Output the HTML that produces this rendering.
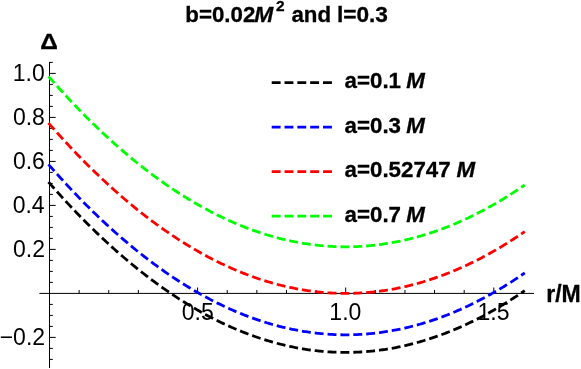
<!DOCTYPE html>
<html><head><meta charset="utf-8"><style>
html,body{margin:0;padding:0;background:#fff;}
svg{display:block;will-change:transform;}
text{font-family:"Liberation Sans",sans-serif;fill:#000;}
</style></head><body>
<svg width="581" height="369" viewBox="0 0 581 369">
<rect width="581" height="369" fill="#fff"/>
<path d="M39.4,293.4 H534 M49.5,62 V368 M79.12,293.4 v-3.4 M108.74,293.4 v-3.4 M138.36,293.4 v-3.4 M167.98,293.4 v-3.4 M197.60,293.4 v-5.9 M227.22,293.4 v-3.4 M256.84,293.4 v-3.4 M286.46,293.4 v-3.4 M316.08,293.4 v-3.4 M345.70,293.4 v-5.9 M375.32,293.4 v-3.4 M404.94,293.4 v-3.4 M434.56,293.4 v-3.4 M464.18,293.4 v-3.4 M493.80,293.4 v-5.9 M523.42,293.4 v-3.4 M49.5,359.40 h3.3 M49.5,348.40 h3.3 M49.5,337.40 h6.2 M49.5,326.40 h3.3 M49.5,315.40 h3.3 M49.5,304.40 h3.3 M49.5,282.40 h3.3 M49.5,271.40 h3.3 M49.5,260.40 h3.3 M49.5,249.40 h6.2 M49.5,238.40 h3.3 M49.5,227.40 h3.3 M49.5,216.40 h3.3 M49.5,205.40 h6.2 M49.5,194.40 h3.3 M49.5,183.40 h3.3 M49.5,172.40 h3.3 M49.5,161.40 h6.2 M49.5,150.40 h3.3 M49.5,139.40 h3.3 M49.5,128.40 h3.3 M49.5,117.40 h6.2 M49.5,106.40 h3.3 M49.5,95.40 h3.3 M49.5,84.40 h3.3 M49.5,73.40 h6.2 M49.5,62.40 h3.3" stroke="#000" stroke-width="1" fill="none"/>
<text x="12.77" y="81.30" style="font-size:23.0px;">1.0</text>
<text x="12.90" y="125.30" style="font-size:23.0px;">0.8</text>
<text x="12.90" y="169.30" style="font-size:23.0px;">0.6</text>
<text x="12.65" y="213.30" style="font-size:23.0px;">0.4</text>
<text x="13.02" y="257.30" style="font-size:23.0px;">0.2</text>
<text x="-0.35" y="345.30" style="font-size:23.0px;">−0.2</text>
<text x="181.76" y="320.00" style="font-size:23.0px;">0.5</text>
<text x="329.36" y="320.00" style="font-size:23.0px;">1.0</text>
<text x="477.52" y="320.00" style="font-size:23.0px;">1.5</text>
<path d="M48.46,181.99 L49.94,183.68 L51.42,185.37 L52.90,187.04 L54.38,188.71 L55.86,190.37 L57.34,192.02 L58.82,193.66 L60.30,195.29 L61.78,196.91 L63.25,198.53 L64.73,200.14 L66.21,201.74 L67.69,203.33 L69.17,204.91 L70.65,206.48 L72.13,208.05 L73.61,209.61 L75.09,211.15 L76.57,212.69 L78.05,214.23 L79.53,215.75 L81.00,217.26 L82.48,218.77 L83.96,220.27 L85.44,221.76 L86.92,223.24 L88.40,224.71 L89.88,226.17 L91.36,227.63 L92.84,229.08 L94.32,230.52 L95.80,231.95 L97.28,233.37 L98.75,234.78 L100.23,236.19 L101.71,237.58 L103.19,238.97 L104.67,240.35 L106.15,241.72 L107.63,243.08 L109.11,244.44 L110.59,245.78 L112.07,247.12 L113.55,248.45 L115.03,249.77 L116.50,251.08 L117.98,252.39 L119.46,253.68 L120.94,254.97 L122.42,256.25 L123.90,257.52 L125.38,258.78 L126.86,260.03 L128.34,261.28 L129.82,262.51 L131.30,263.74 L132.78,264.96 L134.25,266.17 L135.73,267.37 L137.21,268.57 L138.69,269.75 L140.17,270.93 L141.65,272.10 L143.13,273.26 L144.61,274.41 L146.09,275.55 L147.57,276.69 L149.05,277.81 L150.53,278.93 L152.00,280.04 L153.48,281.14 L154.96,282.23 L156.44,283.32 L157.92,284.39 L159.40,285.46 L160.88,286.52 L162.36,287.57 L163.84,288.61 L165.32,289.65 L166.80,290.67 L168.28,291.69 L169.75,292.70 L171.23,293.70 L172.71,294.69 L174.19,295.67 L175.67,296.64 L177.15,297.61 L178.63,298.57 L180.11,299.52 L181.59,300.46 L183.07,301.39 L184.55,302.31 L186.03,303.23 L187.50,304.14 L188.98,305.03 L190.46,305.92 L191.94,306.81 L193.42,307.68 L194.90,308.54 L196.38,309.40 L197.86,310.25 L199.34,311.09 L200.82,311.92 L202.30,312.74 L203.78,313.56 L205.25,314.36 L206.73,315.16 L208.21,315.95 L209.69,316.73 L211.17,317.50 L212.65,318.26 L214.13,319.02 L215.61,319.76 L217.09,320.50 L218.57,321.23 L220.05,321.95 L221.53,322.67 L223.00,323.37 L224.48,324.07 L225.96,324.75 L227.44,325.43 L228.92,326.10 L230.40,326.77 L231.88,327.42 L233.36,328.06 L234.84,328.70 L236.32,329.33 L237.80,329.95 L239.27,330.56 L240.75,331.16 L242.23,331.76 L243.71,332.35 L245.19,332.92 L246.67,333.49 L248.15,334.05 L249.63,334.61 L251.11,335.15 L252.59,335.68 L254.07,336.21 L255.55,336.73 L257.02,337.24 L258.50,337.74 L259.98,338.24 L261.46,338.72 L262.94,339.20 L264.42,339.67 L265.90,340.13 L267.38,340.58 L268.86,341.02 L270.34,341.45 L271.82,341.88 L273.30,342.30 L274.77,342.71 L276.25,343.11 L277.73,343.50 L279.21,343.88 L280.69,344.26 L282.17,344.62 L283.65,344.98 L285.13,345.33 L286.61,345.67 L288.09,346.01 L289.57,346.33 L291.05,346.65 L292.52,346.95 L294.00,347.25 L295.48,347.54 L296.96,347.83 L298.44,348.10 L299.92,348.37 L301.40,348.62 L302.88,348.87 L304.36,349.11 L305.84,349.34 L307.32,349.57 L308.80,349.78 L310.27,349.99 L311.75,350.19 L313.23,350.38 L314.71,350.56 L316.19,350.73 L317.67,350.89 L319.15,351.05 L320.63,351.20 L322.11,351.33 L323.59,351.47 L325.07,351.59 L326.55,351.70 L328.02,351.81 L329.50,351.90 L330.98,351.99 L332.46,352.07 L333.94,352.14 L335.42,352.20 L336.90,352.26 L338.38,352.31 L339.86,352.34 L341.34,352.37 L342.82,352.39 L344.30,352.40 L345.77,352.41 L347.25,352.40 L348.73,352.39 L350.21,352.37 L351.69,352.34 L353.17,352.30 L354.65,352.25 L356.13,352.20 L357.61,352.13 L359.09,352.06 L360.57,351.98 L362.05,351.89 L363.52,351.80 L365.00,351.69 L366.48,351.58 L367.96,351.45 L369.44,351.32 L370.92,351.18 L372.40,351.03 L373.88,350.88 L375.36,350.71 L376.84,350.54 L378.32,350.36 L379.80,350.17 L381.27,349.97 L382.75,349.76 L384.23,349.54 L385.71,349.32 L387.19,349.09 L388.67,348.85 L390.15,348.60 L391.63,348.34 L393.11,348.07 L394.59,347.80 L396.07,347.52 L397.55,347.22 L399.02,346.92 L400.50,346.62 L401.98,346.30 L403.46,345.97 L404.94,345.64 L406.42,345.30 L407.90,344.95 L409.38,344.59 L410.86,344.22 L412.34,343.84 L413.82,343.46 L415.30,343.07 L416.77,342.66 L418.25,342.25 L419.73,341.84 L421.21,341.41 L422.69,340.97 L424.17,340.53 L425.65,340.08 L427.13,339.62 L428.61,339.15 L430.09,338.67 L431.57,338.19 L433.04,337.69 L434.52,337.19 L436.00,336.68 L437.48,336.16 L438.96,335.63 L440.44,335.09 L441.92,334.55 L443.40,334.00 L444.88,333.44 L446.36,332.86 L447.84,332.29 L449.32,331.70 L450.79,331.10 L452.27,330.50 L453.75,329.89 L455.23,329.27 L456.71,328.64 L458.19,328.00 L459.67,327.35 L461.15,326.70 L462.63,326.04 L464.11,325.36 L465.59,324.68 L467.07,324.00 L468.54,323.30 L470.02,322.59 L471.50,321.88 L472.98,321.16 L474.46,320.43 L475.94,319.69 L477.42,318.94 L478.90,318.19 L480.38,317.42 L481.86,316.65 L483.34,315.87 L484.82,315.08 L486.29,314.28 L487.77,313.47 L489.25,312.66 L490.73,311.84 L492.21,311.00 L493.69,310.16 L495.17,309.31 L496.65,308.46 L498.13,307.59 L499.61,306.72 L501.09,305.84 L502.57,304.94 L504.04,304.05 L505.52,303.14 L507.00,302.22 L508.48,301.30 L509.96,300.36 L511.44,299.42 L512.92,298.47 L514.40,297.51 L515.88,296.55 L517.36,295.57 L518.84,294.59 L520.32,293.60 L521.79,292.59 L523.27,291.59 L524.75,290.57" stroke="#000000" stroke-width="2.8" stroke-dasharray="8.930 3.96" fill="none"/>
<path d="M48.46,164.39 L49.94,166.08 L51.42,167.77 L52.90,169.44 L54.38,171.11 L55.86,172.77 L57.34,174.42 L58.82,176.06 L60.30,177.69 L61.78,179.31 L63.25,180.93 L64.73,182.54 L66.21,184.14 L67.69,185.73 L69.17,187.31 L70.65,188.88 L72.13,190.45 L73.61,192.01 L75.09,193.55 L76.57,195.09 L78.05,196.63 L79.53,198.15 L81.00,199.66 L82.48,201.17 L83.96,202.67 L85.44,204.16 L86.92,205.64 L88.40,207.11 L89.88,208.57 L91.36,210.03 L92.84,211.48 L94.32,212.92 L95.80,214.35 L97.28,215.77 L98.75,217.18 L100.23,218.59 L101.71,219.98 L103.19,221.37 L104.67,222.75 L106.15,224.12 L107.63,225.48 L109.11,226.84 L110.59,228.18 L112.07,229.52 L113.55,230.85 L115.03,232.17 L116.50,233.48 L117.98,234.79 L119.46,236.08 L120.94,237.37 L122.42,238.65 L123.90,239.92 L125.38,241.18 L126.86,242.43 L128.34,243.68 L129.82,244.91 L131.30,246.14 L132.78,247.36 L134.25,248.57 L135.73,249.77 L137.21,250.97 L138.69,252.15 L140.17,253.33 L141.65,254.50 L143.13,255.66 L144.61,256.81 L146.09,257.95 L147.57,259.09 L149.05,260.21 L150.53,261.33 L152.00,262.44 L153.48,263.54 L154.96,264.63 L156.44,265.72 L157.92,266.79 L159.40,267.86 L160.88,268.92 L162.36,269.97 L163.84,271.01 L165.32,272.05 L166.80,273.07 L168.28,274.09 L169.75,275.10 L171.23,276.10 L172.71,277.09 L174.19,278.07 L175.67,279.04 L177.15,280.01 L178.63,280.97 L180.11,281.92 L181.59,282.86 L183.07,283.79 L184.55,284.71 L186.03,285.63 L187.50,286.54 L188.98,287.43 L190.46,288.32 L191.94,289.21 L193.42,290.08 L194.90,290.94 L196.38,291.80 L197.86,292.65 L199.34,293.49 L200.82,294.32 L202.30,295.14 L203.78,295.96 L205.25,296.76 L206.73,297.56 L208.21,298.35 L209.69,299.13 L211.17,299.90 L212.65,300.66 L214.13,301.42 L215.61,302.16 L217.09,302.90 L218.57,303.63 L220.05,304.35 L221.53,305.07 L223.00,305.77 L224.48,306.47 L225.96,307.15 L227.44,307.83 L228.92,308.50 L230.40,309.17 L231.88,309.82 L233.36,310.46 L234.84,311.10 L236.32,311.73 L237.80,312.35 L239.27,312.96 L240.75,313.56 L242.23,314.16 L243.71,314.75 L245.19,315.32 L246.67,315.89 L248.15,316.45 L249.63,317.01 L251.11,317.55 L252.59,318.08 L254.07,318.61 L255.55,319.13 L257.02,319.64 L258.50,320.14 L259.98,320.64 L261.46,321.12 L262.94,321.60 L264.42,322.07 L265.90,322.53 L267.38,322.98 L268.86,323.42 L270.34,323.85 L271.82,324.28 L273.30,324.70 L274.77,325.11 L276.25,325.51 L277.73,325.90 L279.21,326.28 L280.69,326.66 L282.17,327.02 L283.65,327.38 L285.13,327.73 L286.61,328.07 L288.09,328.41 L289.57,328.73 L291.05,329.05 L292.52,329.35 L294.00,329.65 L295.48,329.94 L296.96,330.23 L298.44,330.50 L299.92,330.77 L301.40,331.02 L302.88,331.27 L304.36,331.51 L305.84,331.74 L307.32,331.97 L308.80,332.18 L310.27,332.39 L311.75,332.59 L313.23,332.78 L314.71,332.96 L316.19,333.13 L317.67,333.29 L319.15,333.45 L320.63,333.60 L322.11,333.73 L323.59,333.87 L325.07,333.99 L326.55,334.10 L328.02,334.21 L329.50,334.30 L330.98,334.39 L332.46,334.47 L333.94,334.54 L335.42,334.60 L336.90,334.66 L338.38,334.71 L339.86,334.74 L341.34,334.77 L342.82,334.79 L344.30,334.80 L345.77,334.81 L347.25,334.80 L348.73,334.79 L350.21,334.77 L351.69,334.74 L353.17,334.70 L354.65,334.65 L356.13,334.60 L357.61,334.53 L359.09,334.46 L360.57,334.38 L362.05,334.29 L363.52,334.20 L365.00,334.09 L366.48,333.98 L367.96,333.85 L369.44,333.72 L370.92,333.58 L372.40,333.43 L373.88,333.28 L375.36,333.11 L376.84,332.94 L378.32,332.76 L379.80,332.57 L381.27,332.37 L382.75,332.16 L384.23,331.94 L385.71,331.72 L387.19,331.49 L388.67,331.25 L390.15,331.00 L391.63,330.74 L393.11,330.47 L394.59,330.20 L396.07,329.92 L397.55,329.62 L399.02,329.32 L400.50,329.02 L401.98,328.70 L403.46,328.37 L404.94,328.04 L406.42,327.70 L407.90,327.35 L409.38,326.99 L410.86,326.62 L412.34,326.24 L413.82,325.86 L415.30,325.47 L416.77,325.06 L418.25,324.65 L419.73,324.24 L421.21,323.81 L422.69,323.37 L424.17,322.93 L425.65,322.48 L427.13,322.02 L428.61,321.55 L430.09,321.07 L431.57,320.59 L433.04,320.09 L434.52,319.59 L436.00,319.08 L437.48,318.56 L438.96,318.03 L440.44,317.49 L441.92,316.95 L443.40,316.40 L444.88,315.84 L446.36,315.26 L447.84,314.69 L449.32,314.10 L450.79,313.50 L452.27,312.90 L453.75,312.29 L455.23,311.67 L456.71,311.04 L458.19,310.40 L459.67,309.75 L461.15,309.10 L462.63,308.44 L464.11,307.76 L465.59,307.08 L467.07,306.40 L468.54,305.70 L470.02,304.99 L471.50,304.28 L472.98,303.56 L474.46,302.83 L475.94,302.09 L477.42,301.34 L478.90,300.59 L480.38,299.82 L481.86,299.05 L483.34,298.27 L484.82,297.48 L486.29,296.68 L487.77,295.87 L489.25,295.06 L490.73,294.24 L492.21,293.40 L493.69,292.56 L495.17,291.71 L496.65,290.86 L498.13,289.99 L499.61,289.12 L501.09,288.24 L502.57,287.34 L504.04,286.45 L505.52,285.54 L507.00,284.62 L508.48,283.70 L509.96,282.76 L511.44,281.82 L512.92,280.87 L514.40,279.91 L515.88,278.95 L517.36,277.97 L518.84,276.99 L520.32,276.00 L521.79,274.99 L523.27,273.99 L524.75,272.97" stroke="#0000ff" stroke-width="2.8" stroke-dasharray="8.930 3.96" fill="none"/>
<path d="M48.46,122.98 L49.94,124.67 L51.42,126.36 L52.90,128.03 L54.38,129.70 L55.86,131.36 L57.34,133.01 L58.82,134.65 L60.30,136.28 L61.78,137.90 L63.25,139.52 L64.73,141.13 L66.21,142.73 L67.69,144.32 L69.17,145.90 L70.65,147.47 L72.13,149.04 L73.61,150.60 L75.09,152.14 L76.57,153.68 L78.05,155.22 L79.53,156.74 L81.00,158.25 L82.48,159.76 L83.96,161.26 L85.44,162.75 L86.92,164.23 L88.40,165.70 L89.88,167.16 L91.36,168.62 L92.84,170.07 L94.32,171.51 L95.80,172.94 L97.28,174.36 L98.75,175.77 L100.23,177.18 L101.71,178.57 L103.19,179.96 L104.67,181.34 L106.15,182.71 L107.63,184.07 L109.11,185.43 L110.59,186.77 L112.07,188.11 L113.55,189.44 L115.03,190.76 L116.50,192.07 L117.98,193.38 L119.46,194.67 L120.94,195.96 L122.42,197.24 L123.90,198.51 L125.38,199.77 L126.86,201.02 L128.34,202.27 L129.82,203.50 L131.30,204.73 L132.78,205.95 L134.25,207.16 L135.73,208.36 L137.21,209.56 L138.69,210.74 L140.17,211.92 L141.65,213.09 L143.13,214.25 L144.61,215.40 L146.09,216.54 L147.57,217.68 L149.05,218.80 L150.53,219.92 L152.00,221.03 L153.48,222.13 L154.96,223.22 L156.44,224.31 L157.92,225.38 L159.40,226.45 L160.88,227.51 L162.36,228.56 L163.84,229.60 L165.32,230.64 L166.80,231.66 L168.28,232.68 L169.75,233.69 L171.23,234.69 L172.71,235.68 L174.19,236.66 L175.67,237.63 L177.15,238.60 L178.63,239.56 L180.11,240.51 L181.59,241.45 L183.07,242.38 L184.55,243.30 L186.03,244.22 L187.50,245.13 L188.98,246.03 L190.46,246.92 L191.94,247.80 L193.42,248.67 L194.90,249.53 L196.38,250.39 L197.86,251.24 L199.34,252.08 L200.82,252.91 L202.30,253.73 L203.78,254.55 L205.25,255.35 L206.73,256.15 L208.21,256.94 L209.69,257.72 L211.17,258.49 L212.65,259.25 L214.13,260.01 L215.61,260.75 L217.09,261.49 L218.57,262.22 L220.05,262.94 L221.53,263.66 L223.00,264.36 L224.48,265.06 L225.96,265.74 L227.44,266.42 L228.92,267.09 L230.40,267.76 L231.88,268.41 L233.36,269.06 L234.84,269.69 L236.32,270.32 L237.80,270.94 L239.27,271.55 L240.75,272.15 L242.23,272.75 L243.71,273.34 L245.19,273.91 L246.67,274.48 L248.15,275.04 L249.63,275.60 L251.11,276.14 L252.59,276.68 L254.07,277.20 L255.55,277.72 L257.02,278.23 L258.50,278.73 L259.98,279.23 L261.46,279.71 L262.94,280.19 L264.42,280.66 L265.90,281.12 L267.38,281.57 L268.86,282.01 L270.34,282.44 L271.82,282.87 L273.30,283.29 L274.77,283.70 L276.25,284.10 L277.73,284.49 L279.21,284.87 L280.69,285.25 L282.17,285.61 L283.65,285.97 L285.13,286.32 L286.61,286.66 L288.09,287.00 L289.57,287.32 L291.05,287.64 L292.52,287.94 L294.00,288.24 L295.48,288.53 L296.96,288.82 L298.44,289.09 L299.92,289.36 L301.40,289.61 L302.88,289.86 L304.36,290.10 L305.84,290.33 L307.32,290.56 L308.80,290.77 L310.27,290.98 L311.75,291.18 L313.23,291.37 L314.71,291.55 L316.19,291.72 L317.67,291.88 L319.15,292.04 L320.63,292.19 L322.11,292.33 L323.59,292.46 L325.07,292.58 L326.55,292.69 L328.02,292.80 L329.50,292.89 L330.98,292.98 L332.46,293.06 L333.94,293.13 L335.42,293.20 L336.90,293.25 L338.38,293.30 L339.86,293.33 L341.34,293.36 L342.82,293.38 L344.30,293.40 L345.77,293.40 L347.25,293.39 L348.73,293.38 L350.21,293.36 L351.69,293.33 L353.17,293.29 L354.65,293.24 L356.13,293.19 L357.61,293.13 L359.09,293.05 L360.57,292.97 L362.05,292.88 L363.52,292.79 L365.00,292.68 L366.48,292.57 L367.96,292.44 L369.44,292.31 L370.92,292.17 L372.40,292.02 L373.88,291.87 L375.36,291.70 L376.84,291.53 L378.32,291.35 L379.80,291.16 L381.27,290.96 L382.75,290.75 L384.23,290.54 L385.71,290.31 L387.19,290.08 L388.67,289.84 L390.15,289.59 L391.63,289.33 L393.11,289.06 L394.59,288.79 L396.07,288.51 L397.55,288.21 L399.02,287.91 L400.50,287.61 L401.98,287.29 L403.46,286.96 L404.94,286.63 L406.42,286.29 L407.90,285.94 L409.38,285.58 L410.86,285.21 L412.34,284.83 L413.82,284.45 L415.30,284.06 L416.77,283.66 L418.25,283.25 L419.73,282.83 L421.21,282.40 L422.69,281.97 L424.17,281.52 L425.65,281.07 L427.13,280.61 L428.61,280.14 L430.09,279.66 L431.57,279.18 L433.04,278.68 L434.52,278.18 L436.00,277.67 L437.48,277.15 L438.96,276.62 L440.44,276.09 L441.92,275.54 L443.40,274.99 L444.88,274.43 L446.36,273.86 L447.84,273.28 L449.32,272.69 L450.79,272.09 L452.27,271.49 L453.75,270.88 L455.23,270.26 L456.71,269.63 L458.19,268.99 L459.67,268.34 L461.15,267.69 L462.63,267.03 L464.11,266.36 L465.59,265.68 L467.07,264.99 L468.54,264.29 L470.02,263.59 L471.50,262.87 L472.98,262.15 L474.46,261.42 L475.94,260.68 L477.42,259.93 L478.90,259.18 L480.38,258.41 L481.86,257.64 L483.34,256.86 L484.82,256.07 L486.29,255.27 L487.77,254.46 L489.25,253.65 L490.73,252.83 L492.21,251.99 L493.69,251.15 L495.17,250.31 L496.65,249.45 L498.13,248.58 L499.61,247.71 L501.09,246.83 L502.57,245.94 L504.04,245.04 L505.52,244.13 L507.00,243.21 L508.48,242.29 L509.96,241.35 L511.44,240.41 L512.92,239.46 L514.40,238.50 L515.88,237.54 L517.36,236.56 L518.84,235.58 L520.32,234.59 L521.79,233.59 L523.27,232.58 L524.75,231.56" stroke="#ff0000" stroke-width="2.8" stroke-dasharray="8.930 3.96" fill="none"/>
<path d="M48.46,76.39 L49.94,78.08 L51.42,79.77 L52.90,81.44 L54.38,83.11 L55.86,84.77 L57.34,86.42 L58.82,88.06 L60.30,89.69 L61.78,91.31 L63.25,92.93 L64.73,94.54 L66.21,96.14 L67.69,97.73 L69.17,99.31 L70.65,100.88 L72.13,102.45 L73.61,104.01 L75.09,105.55 L76.57,107.09 L78.05,108.63 L79.53,110.15 L81.00,111.66 L82.48,113.17 L83.96,114.67 L85.44,116.16 L86.92,117.64 L88.40,119.11 L89.88,120.57 L91.36,122.03 L92.84,123.48 L94.32,124.92 L95.80,126.35 L97.28,127.77 L98.75,129.18 L100.23,130.59 L101.71,131.98 L103.19,133.37 L104.67,134.75 L106.15,136.12 L107.63,137.48 L109.11,138.84 L110.59,140.18 L112.07,141.52 L113.55,142.85 L115.03,144.17 L116.50,145.48 L117.98,146.79 L119.46,148.08 L120.94,149.37 L122.42,150.65 L123.90,151.92 L125.38,153.18 L126.86,154.43 L128.34,155.68 L129.82,156.91 L131.30,158.14 L132.78,159.36 L134.25,160.57 L135.73,161.77 L137.21,162.97 L138.69,164.15 L140.17,165.33 L141.65,166.50 L143.13,167.66 L144.61,168.81 L146.09,169.95 L147.57,171.09 L149.05,172.21 L150.53,173.33 L152.00,174.44 L153.48,175.54 L154.96,176.63 L156.44,177.72 L157.92,178.79 L159.40,179.86 L160.88,180.92 L162.36,181.97 L163.84,183.01 L165.32,184.05 L166.80,185.07 L168.28,186.09 L169.75,187.10 L171.23,188.10 L172.71,189.09 L174.19,190.07 L175.67,191.04 L177.15,192.01 L178.63,192.97 L180.11,193.92 L181.59,194.86 L183.07,195.79 L184.55,196.71 L186.03,197.63 L187.50,198.54 L188.98,199.43 L190.46,200.32 L191.94,201.21 L193.42,202.08 L194.90,202.94 L196.38,203.80 L197.86,204.65 L199.34,205.49 L200.82,206.32 L202.30,207.14 L203.78,207.96 L205.25,208.76 L206.73,209.56 L208.21,210.35 L209.69,211.13 L211.17,211.90 L212.65,212.66 L214.13,213.42 L215.61,214.16 L217.09,214.90 L218.57,215.63 L220.05,216.35 L221.53,217.07 L223.00,217.77 L224.48,218.47 L225.96,219.15 L227.44,219.83 L228.92,220.50 L230.40,221.17 L231.88,221.82 L233.36,222.46 L234.84,223.10 L236.32,223.73 L237.80,224.35 L239.27,224.96 L240.75,225.56 L242.23,226.16 L243.71,226.75 L245.19,227.32 L246.67,227.89 L248.15,228.45 L249.63,229.01 L251.11,229.55 L252.59,230.08 L254.07,230.61 L255.55,231.13 L257.02,231.64 L258.50,232.14 L259.98,232.64 L261.46,233.12 L262.94,233.60 L264.42,234.07 L265.90,234.53 L267.38,234.98 L268.86,235.42 L270.34,235.85 L271.82,236.28 L273.30,236.70 L274.77,237.11 L276.25,237.51 L277.73,237.90 L279.21,238.28 L280.69,238.66 L282.17,239.02 L283.65,239.38 L285.13,239.73 L286.61,240.07 L288.09,240.41 L289.57,240.73 L291.05,241.05 L292.52,241.35 L294.00,241.65 L295.48,241.94 L296.96,242.23 L298.44,242.50 L299.92,242.77 L301.40,243.02 L302.88,243.27 L304.36,243.51 L305.84,243.74 L307.32,243.97 L308.80,244.18 L310.27,244.39 L311.75,244.59 L313.23,244.78 L314.71,244.96 L316.19,245.13 L317.67,245.29 L319.15,245.45 L320.63,245.60 L322.11,245.73 L323.59,245.87 L325.07,245.99 L326.55,246.10 L328.02,246.21 L329.50,246.30 L330.98,246.39 L332.46,246.47 L333.94,246.54 L335.42,246.60 L336.90,246.66 L338.38,246.71 L339.86,246.74 L341.34,246.77 L342.82,246.79 L344.30,246.80 L345.77,246.81 L347.25,246.80 L348.73,246.79 L350.21,246.77 L351.69,246.74 L353.17,246.70 L354.65,246.65 L356.13,246.60 L357.61,246.53 L359.09,246.46 L360.57,246.38 L362.05,246.29 L363.52,246.20 L365.00,246.09 L366.48,245.98 L367.96,245.85 L369.44,245.72 L370.92,245.58 L372.40,245.43 L373.88,245.28 L375.36,245.11 L376.84,244.94 L378.32,244.76 L379.80,244.57 L381.27,244.37 L382.75,244.16 L384.23,243.94 L385.71,243.72 L387.19,243.49 L388.67,243.25 L390.15,243.00 L391.63,242.74 L393.11,242.47 L394.59,242.20 L396.07,241.92 L397.55,241.62 L399.02,241.32 L400.50,241.02 L401.98,240.70 L403.46,240.37 L404.94,240.04 L406.42,239.70 L407.90,239.35 L409.38,238.99 L410.86,238.62 L412.34,238.24 L413.82,237.86 L415.30,237.47 L416.77,237.06 L418.25,236.65 L419.73,236.24 L421.21,235.81 L422.69,235.37 L424.17,234.93 L425.65,234.48 L427.13,234.02 L428.61,233.55 L430.09,233.07 L431.57,232.59 L433.04,232.09 L434.52,231.59 L436.00,231.08 L437.48,230.56 L438.96,230.03 L440.44,229.49 L441.92,228.95 L443.40,228.40 L444.88,227.84 L446.36,227.26 L447.84,226.69 L449.32,226.10 L450.79,225.50 L452.27,224.90 L453.75,224.29 L455.23,223.67 L456.71,223.04 L458.19,222.40 L459.67,221.75 L461.15,221.10 L462.63,220.44 L464.11,219.76 L465.59,219.08 L467.07,218.40 L468.54,217.70 L470.02,216.99 L471.50,216.28 L472.98,215.56 L474.46,214.83 L475.94,214.09 L477.42,213.34 L478.90,212.59 L480.38,211.82 L481.86,211.05 L483.34,210.27 L484.82,209.48 L486.29,208.68 L487.77,207.87 L489.25,207.06 L490.73,206.24 L492.21,205.40 L493.69,204.56 L495.17,203.71 L496.65,202.86 L498.13,201.99 L499.61,201.12 L501.09,200.24 L502.57,199.34 L504.04,198.45 L505.52,197.54 L507.00,196.62 L508.48,195.70 L509.96,194.76 L511.44,193.82 L512.92,192.87 L514.40,191.91 L515.88,190.95 L517.36,189.97 L518.84,188.99 L520.32,188.00 L521.79,186.99 L523.27,185.99 L524.75,184.97" stroke="#00ff00" stroke-width="2.8" stroke-dasharray="8.930 3.96" fill="none"/>
<text x="546.20" y="302.00" style="font-size:23.0px;font-weight:bold;stroke:#000;stroke-width:0.3px;">r/M</text>
<text transform="translate(40.24,48.60) scale(1.07,1)" style="font-size:22.9px;font-weight:bold;stroke:#000;stroke-width:0.3px;">Δ</text>
<text x="185.30" y="22.40" style="font-size:22.3px;font-weight:bold;stroke:#000;stroke-width:0.3px;">b=0.02</text>
<text x="254.22" y="22.40" style="font-size:22.8px;font-weight:bold;stroke:#000;stroke-width:0.3px;font-style:italic;">M</text>
<text x="276.10" y="11.20" style="font-size:15.5px;font-weight:bold;stroke:#000;stroke-width:0.3px;">2</text>
<text x="291.38" y="22.40" style="font-size:22.3px;font-weight:bold;stroke:#000;stroke-width:0.3px;">and</text>
<text x="336.88" y="22.40" style="font-size:22.7px;font-weight:bold;stroke:#000;stroke-width:0.3px;">l=0.3</text>
<text x="344.57" y="88.30" style="font-size:22.3px;font-weight:bold;stroke:#000;stroke-width:0.3px;">a=0.1</text>
<text x="406.23" y="88.30" style="font-size:22.3px;font-weight:bold;stroke:#000;stroke-width:0.3px;font-style:italic;">M</text>
<text x="344.57" y="132.77" style="font-size:22.3px;font-weight:bold;stroke:#000;stroke-width:0.3px;">a=0.3</text>
<text x="406.23" y="132.77" style="font-size:22.3px;font-weight:bold;stroke:#000;stroke-width:0.3px;font-style:italic;">M</text>
<text x="344.57" y="177.24" style="font-size:22.3px;font-weight:bold;stroke:#000;stroke-width:0.3px;">a=0.52747</text>
<text x="456.52" y="177.24" style="font-size:22.3px;font-weight:bold;stroke:#000;stroke-width:0.3px;font-style:italic;">M</text>
<text x="344.57" y="221.71" style="font-size:22.3px;font-weight:bold;stroke:#000;stroke-width:0.3px;">a=0.7</text>
<text x="406.23" y="221.71" style="font-size:22.3px;font-weight:bold;stroke:#000;stroke-width:0.3px;font-style:italic;">M</text>
<path d="M271.7,82.70 H332.1" stroke="#000000" stroke-width="2.8" stroke-dasharray="8.9 3.93" fill="none"/>
<path d="M271.7,127.17 H332.1" stroke="#0000ff" stroke-width="2.8" stroke-dasharray="8.9 3.93" fill="none"/>
<path d="M271.7,171.64 H332.1" stroke="#ff0000" stroke-width="2.8" stroke-dasharray="8.9 3.93" fill="none"/>
<path d="M271.7,216.11 H332.1" stroke="#00ff00" stroke-width="2.8" stroke-dasharray="8.9 3.93" fill="none"/>
</svg>
</body></html>
